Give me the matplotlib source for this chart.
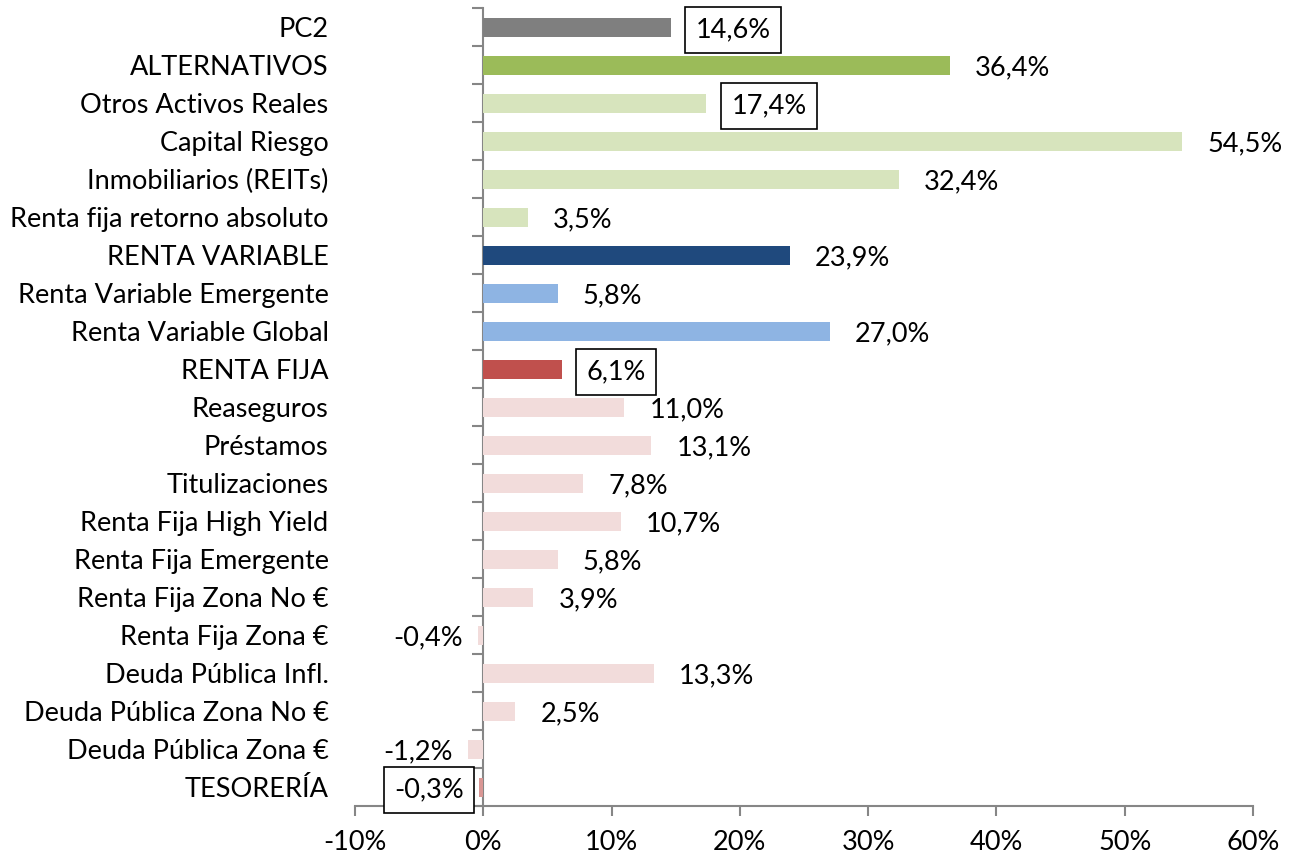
import matplotlib.pyplot as plt
import numpy as np

plt.rcParams['font.family'] = ['Lato', 'DejaVu Sans']
plt.rcParams['font.size'] = 19.5

categories = ['PC2', 'ALTERNATIVOS', 'Otros Activos Reales', 'Capital Riesgo',
              'Inmobiliarios (REITs)', 'Renta fija retorno absoluto', 'RENTA VARIABLE',
              'Renta Variable Emergente', 'Renta Variable Global', 'RENTA FIJA',
              'Reaseguros', 'Préstamos', 'Titulizaciones', 'Renta Fija High Yield',
              'Renta Fija Emergente', 'Renta Fija Zona No €', 'Renta Fija Zona €',
              'Deuda Pública Infl.', 'Deuda Pública Zona No €', 'Deuda Pública Zona €',
              'TESORERÍA']
values = [14.6, 36.4, 17.4, 54.5, 32.4, 3.5, 23.9, 5.8, 27.0, 6.1, 11.0, 13.1,
          7.8, 10.7, 5.8, 3.9, -0.4, 13.3, 2.5, -1.2, -0.3]
colors = ['#7f7f7f', '#9bbb59', '#d7e4bd', '#d7e4bd', '#d7e4bd', '#d7e4bd',
          '#1f497d', '#8eb4e3', '#8eb4e3', '#c0504d',
          '#f2dcdb', '#f2dcdb', '#f2dcdb', '#f2dcdb', '#f2dcdb', '#f2dcdb',
          '#f2dcdb', '#f2dcdb', '#f2dcdb', '#f2dcdb', '#d99694']
boxed = ['PC2', 'Otros Activos Reales', 'RENTA FIJA', 'TESORERÍA']

fig = plt.figure(figsize=(12.95, 8.55), dpi=100)
ax = fig.add_axes([0.2741, 0.0573, 0.6935, 0.9333])

y = np.arange(len(categories))
ax.barh(y, values, height=0.5, color=colors)
ax.set_ylim(len(categories) - 0.5, -0.5)
ax.set_xlim(-10, 60)

ax.set_xticks(np.arange(-10, 61, 10))
ax.set_xticklabels([f'{t}%' for t in range(-10, 61, 10)])
ax.set_yticks(y)
ax.set_yticklabels(categories)
ax.tick_params(axis='y', length=0, pad=19)
ax.tick_params(axis='x', length=7, width=1.5, color='#868686', pad=10)

for s in ['top', 'right', 'left']:
    ax.spines[s].set_visible(False)
ax.spines['bottom'].set_color('#868686')
ax.spines['bottom'].set_linewidth(1.5)

# eje vertical en x=0 con marcas entre categorías
sec = ax.secondary_yaxis(0, transform=ax.transData)
sec.set_yticks(np.arange(-0.5, len(categories), 1.0))
sec.set_yticklabels([])
sec.tick_params(length=8, width=1.5, color='#868686')
sec.spines['left'].set_color('#868686')
sec.spines['left'].set_linewidth(1.5)

for yi, v, c in zip(y, values, categories):
    txt = f'{v:.1f}%'.replace('.', ',')
    if v >= 0:
        off, ha = 18, 'left'
    else:
        off, ha = -11, 'right'
    kw = {}
    if c in boxed:
        kw['bbox'] = dict(boxstyle='square,pad=0.38', fc='white', ec='black', lw=1.2)
    ax.annotate(txt, xy=(v, yi), xytext=(off, -2), textcoords='offset points',
                ha=ha, va='center', fontsize=19.5, **kw)

plt.savefig('out.png', dpi=100)
